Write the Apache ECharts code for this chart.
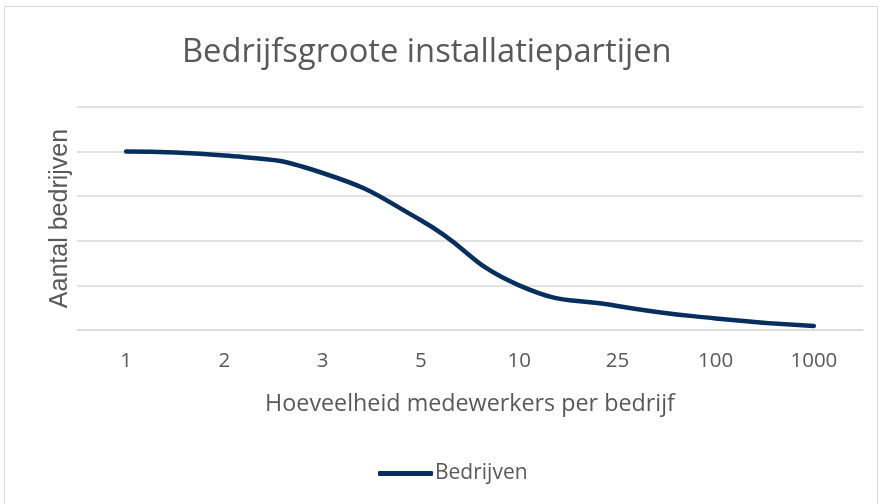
<!DOCTYPE html>
<html><head><meta charset="utf-8">
<script src="https://cdn.jsdelivr.net/npm/echarts@6/dist/echarts.min.js"></script>
<style>html,body{margin:0;padding:0;background:#fff}#c{width:882px;height:504px}</style>
</head><body><div id="c"></div>
<script>
const categories = ['1','2','3','5','10','25','100','1000'];
const bedrijven = [4.0, 3.91, 3.52, 2.46, 1.0, 0.54, 0.26, 0.09];
const seriesName = 'Bedrijven';
const titleText = 'Bedrijfsgroote installatiepartijen';
const xName = 'Hoeveelheid medewerkers per bedrijf';
const yName = 'Aantal bedrijven';

const FONT = '"Open Sans", sans-serif';
const chart = echarts.init(document.getElementById('c'), null, {renderer:'canvas'});
chart.setOption({
  animation:false,
  backgroundColor:'#fff',
  graphic:[{type:'rect',shape:{x:4.5,y:6.5,width:873,height:500},style:{fill:'none',stroke:'#d9d9d9',lineWidth:1}}],
  title:{text:titleText,left:177,top:31,textStyle:{fontFamily:FONT,fontSize:32.7,fontWeight:'normal',color:'#595959'}},
  legend:{bottom:15,left:373,itemWidth:55,itemHeight:5,icon:'roundRect',itemGap:4,
    textStyle:{fontFamily:FONT,fontSize:21,color:'#595959',padding:[0,0,0,-3]},data:[seriesName]},
  grid:{left:77,right:19,top:107,bottom:174},
  xAxis:{type:'category',data:categories,boundaryGap:true,
    axisLine:{show:true,lineStyle:{color:'#d9d9d9'}},axisTick:{show:false},
    axisLabel:{fontFamily:FONT,fontSize:20.5,color:'#595959',margin:21},
    name:xName,nameLocation:'middle',nameGap:63,
    nameTextStyle:{fontFamily:FONT,fontSize:23.3,color:'#595959'}},
  yAxis:{type:'value',min:0,max:5,interval:1,
    axisLabel:{show:false},axisLine:{show:false},axisTick:{show:false},
    splitLine:{lineStyle:{color:'#d9d9d9',width:1.5}},
    name:yName,nameLocation:'middle',nameGap:4,
    nameTextStyle:{fontFamily:'"Liberation Sans", Arial, sans-serif',fontSize:25,color:'#595959'}},
  series:[{name:seriesName,type:'line',data:bedrijven,smooth:0.5,showSymbol:false,
    lineStyle:{color:'#062f5e',width:4.5,cap:'round'},itemStyle:{color:'#062f5e'}}]
});
</script></body></html>
